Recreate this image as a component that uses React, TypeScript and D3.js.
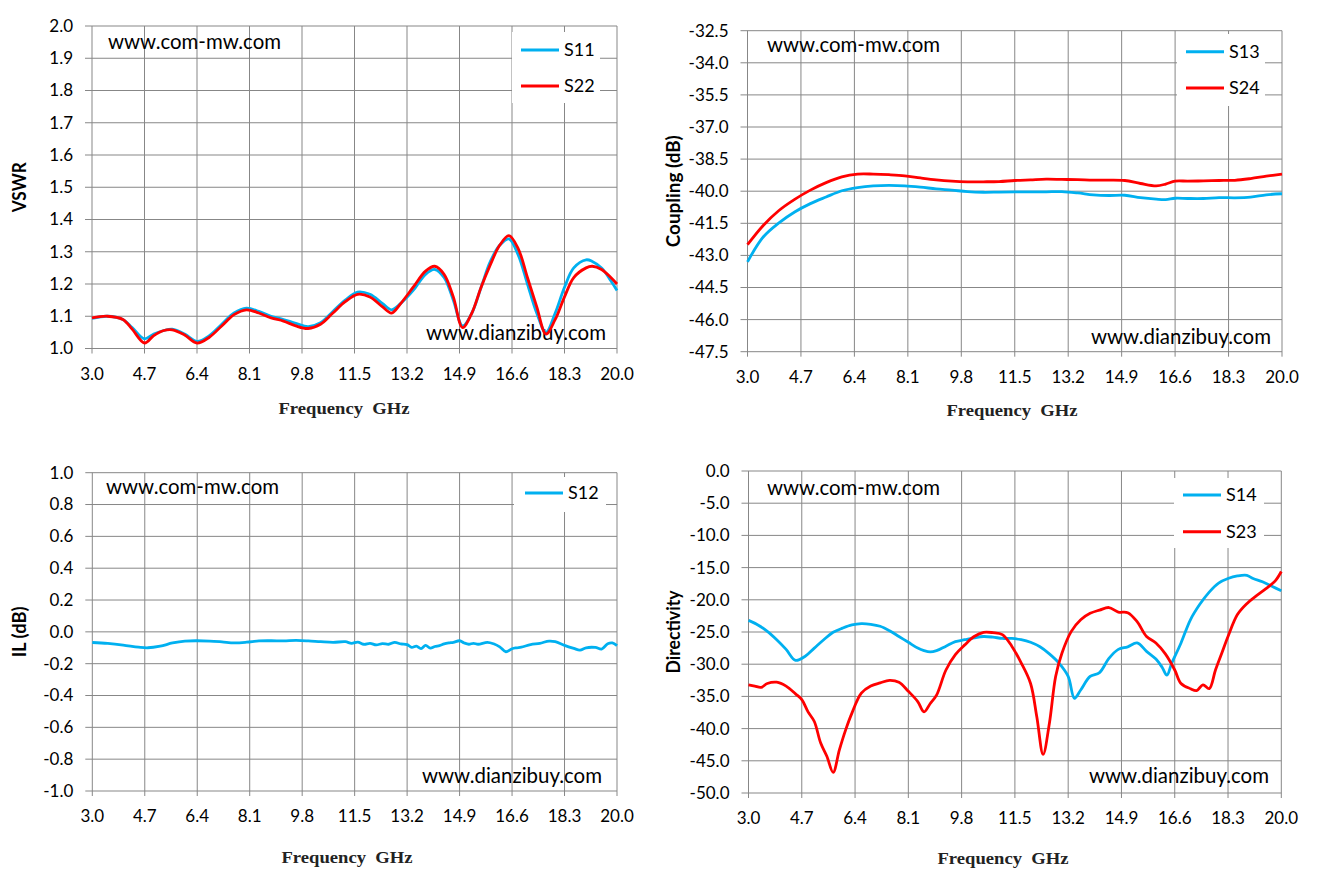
import * as d3 from "d3";

// shared frequency axis
const xTicks = [3.0, 4.7, 6.4, 8.1, 9.8, 11.5, 13.2, 14.9, 16.6, 18.3, 20.0];

// VSWR panel
const vswrTicks = [1.0, 1.1, 1.2, 1.3, 1.4, 1.5, 1.6, 1.7, 1.8, 1.9, 2.0];
const vswrFreq = [3.0, 3.5, 4.0, 4.3, 4.7, 5.0, 5.3, 5.6, 6.0, 6.4, 6.8, 7.2, 7.6, 8.0, 8.4, 8.8, 9.2, 9.6, 10.0, 10.4, 10.8, 11.2, 11.6, 12.0, 12.4, 12.7, 13.0, 13.4, 13.8, 14.1, 14.4, 14.7, 15.0, 15.3, 15.6, 15.9, 16.2, 16.5, 16.8, 17.1, 17.4, 17.7, 18.0, 18.3, 18.6, 19.0, 19.2, 19.5, 19.8, 20.0];
const s11 = [1.093, 1.10, 1.09, 1.065, 1.03, 1.045, 1.055, 1.06, 1.045, 1.022, 1.04, 1.075, 1.11, 1.125, 1.115, 1.10, 1.09, 1.078, 1.068, 1.08, 1.115, 1.15, 1.175, 1.168, 1.14, 1.12, 1.14, 1.18, 1.23, 1.245, 1.22, 1.15, 1.07, 1.11, 1.19, 1.27, 1.32, 1.34, 1.29, 1.20, 1.11, 1.05, 1.11, 1.19, 1.25, 1.275, 1.27, 1.25, 1.21, 1.18];
const s22 = [1.095, 1.10, 1.09, 1.06, 1.017, 1.04, 1.055, 1.058, 1.042, 1.017, 1.035, 1.07, 1.105, 1.12, 1.11, 1.095, 1.085, 1.07, 1.062, 1.075, 1.11, 1.145, 1.168, 1.16, 1.13, 1.11, 1.14, 1.19, 1.24, 1.255, 1.23, 1.16, 1.065, 1.11, 1.19, 1.26, 1.32, 1.35, 1.31, 1.22, 1.13, 1.045, 1.09, 1.16, 1.22, 1.25, 1.255, 1.245, 1.22, 1.20];

// Coupling panel
const couplingTicks = [-47.5, -46.0, -44.5, -43.0, -41.5, -40.0, -38.5, -37.0, -35.5, -34.0, -32.5];
const couplingFreq = [3.0, 3.5, 4.0, 4.5, 5.0, 5.5, 6.0, 6.5, 7.0, 7.5, 8.0, 8.5, 9.0, 9.5, 10.0, 10.5, 11.0, 11.5, 12.0, 12.5, 13.0, 13.5, 14.0, 14.5, 15.0, 15.5, 16.0, 16.3, 16.6, 17.0, 17.5, 18.0, 18.5, 19.0, 19.5, 20.0];
const s13 = [-43.3, -42.14, -41.48, -40.97, -40.58, -40.27, -39.98, -39.83, -39.75, -39.73, -39.75, -39.81, -39.89, -39.95, -40.02, -40.05, -40.04, -40.03, -40.03, -40.03, -40.02, -40.08, -40.17, -40.2, -40.19, -40.3, -40.37, -40.39, -40.33, -40.34, -40.34, -40.3, -40.31, -40.28, -40.17, -40.12];
const s24 = [-42.5, -41.6, -40.9, -40.38, -39.95, -39.6, -39.33, -39.2, -39.2, -39.23, -39.28, -39.38, -39.47, -39.53, -39.56, -39.56, -39.55, -39.5, -39.47, -39.44, -39.45, -39.46, -39.48, -39.48, -39.5, -39.64, -39.75, -39.67, -39.53, -39.53, -39.52, -39.5, -39.49, -39.41, -39.3, -39.2];

// Insertion loss panel
const ilTicks = [-1.0, -0.8, -0.6, -0.4, -0.2, 0.0, 0.2, 0.4, 0.6, 0.8, 1.0];
const ilFreq = [3.0, 3.5, 4.0, 4.5, 4.8, 5.2, 5.6, 6.0, 6.4, 6.8, 7.2, 7.6, 8.0, 8.4, 8.8, 9.2, 9.6, 10.0, 10.4, 10.8, 11.2, 11.4, 11.6, 11.8, 12.0, 12.2, 12.4, 12.6, 12.8, 13.0, 13.2, 13.35, 13.5, 13.65, 13.8, 13.95, 14.1, 14.25, 14.4, 14.55, 14.7, 14.9, 15.05, 15.2, 15.35, 15.5, 15.8, 16.0, 16.2, 16.4, 16.6, 16.75, 16.9, 17.2, 17.5, 17.8, 18.0, 18.3, 18.6, 18.8, 19.0, 19.3, 19.5, 19.7, 19.85, 20.0];
const s12 = [-0.067, -0.073, -0.083, -0.096, -0.10, -0.09, -0.07, -0.058, -0.056, -0.058, -0.063, -0.069, -0.065, -0.057, -0.056, -0.057, -0.054, -0.057, -0.062, -0.066, -0.062, -0.072, -0.064, -0.078, -0.072, -0.082, -0.074, -0.078, -0.066, -0.076, -0.08, -0.098, -0.09, -0.105, -0.085, -0.102, -0.092, -0.086, -0.076, -0.07, -0.066, -0.056, -0.07, -0.078, -0.072, -0.078, -0.066, -0.075, -0.094, -0.125, -0.106, -0.1, -0.096, -0.08, -0.072, -0.058, -0.062, -0.085, -0.104, -0.115, -0.1, -0.098, -0.108, -0.075, -0.07, -0.087];

// Directivity panel
const dirTicks = [-50, -45, -40, -35, -30, -25, -20, -15, -10, -5, 0];
const s14Freq = [3.0, 3.3, 3.6, 3.9, 4.2, 4.5, 4.8, 5.1, 5.4, 5.7, 6.0, 6.3, 6.6, 6.9, 7.2, 7.5, 7.8, 8.1, 8.4, 8.6, 8.8, 9.0, 9.3, 9.6, 9.9, 10.2, 10.5, 10.8, 11.1, 11.4, 11.7, 12.0, 12.3, 12.6, 12.9, 13.2, 13.4, 13.6, 13.9, 14.2, 14.5, 14.8, 15.1, 15.4, 15.7, 16.0, 16.2, 16.35, 16.5, 16.8, 17.1, 17.4, 17.7, 18.0, 18.3, 18.6, 18.9, 19.1, 19.4, 19.7, 20.0];
const s14 = [-23.2, -23.9, -24.9, -26.2, -27.7, -29.4, -28.8, -27.5, -26.2, -25.05, -24.4, -23.9, -23.7, -23.8, -24.1, -24.8, -25.7, -26.6, -27.5, -27.9, -28.1, -27.9, -27.2, -26.5, -26.2, -25.9, -25.7, -25.8, -26.0, -26.0, -26.2, -26.6, -27.3, -28.4, -29.8, -31.9, -35.3, -34.0, -31.9, -31.3, -29.1, -27.7, -27.3, -26.7, -28.0, -29.2, -30.5, -31.7, -29.9, -26.7, -23.1, -20.7, -18.8, -17.4, -16.7, -16.3, -16.2, -16.7, -17.2, -17.9, -18.6];
const s23Freq = [3.0, 3.2, 3.4, 3.6, 3.9, 4.2, 4.5, 4.7, 4.9, 5.1, 5.3, 5.5, 5.7, 5.9, 6.1, 6.3, 6.6, 6.9, 7.2, 7.5, 7.8, 8.1, 8.4, 8.6, 8.8, 9.0, 9.3, 9.6, 9.9, 10.2, 10.5, 10.8, 11.1, 11.4, 11.7, 12.0, 12.2, 12.4, 12.6, 12.8, 13.0, 13.3, 13.6, 13.9, 14.2, 14.5, 14.8, 15.1, 15.4, 15.7, 16.0, 16.3, 16.6, 16.8, 17.1, 17.3, 17.5, 17.7, 17.9, 18.1, 18.3, 18.6, 18.9, 19.2, 19.5, 19.8, 20.0];
const s23 = [-33.2, -33.4, -33.6, -33.0, -32.8, -33.4, -34.6, -35.5, -37.4, -38.9, -42.2, -44.3, -46.8, -43.3, -40.2, -37.6, -34.5, -33.4, -32.9, -32.5, -32.8, -34.2, -35.8, -37.4, -36.1, -34.8, -30.9, -28.5, -27.0, -25.7, -25.05, -25.1, -25.4, -27.2, -29.8, -33.0, -38.2, -44.0, -39.2, -31.9, -28.3, -24.9, -23.1, -22.1, -21.6, -21.2, -21.9, -22.0, -23.4, -25.7, -26.7, -28.4, -30.9, -33.0, -33.8, -34.1, -33.2, -33.8, -30.9, -28.3, -25.7, -22.3, -20.6, -19.4, -18.3, -17.1, -15.6];

const BLUE = "#00B0F0";
const RED = "#FF0000";
const GRID = "#878787";
const TICK_FONT = "Lato, 'Open Sans', sans-serif";

const panels = [
  {
    left: 92, right: 617, top: 26, bottom: 348.5,
    yTicks: vswrTicks, yTitle: "VSWR", yTitleX: 19, yTitleLen: 50,
    xTitleX: 344, xTitleY: 414,
    wm1: [108, 49], wm2: [606, 340],
    legendBox: [512, 32, 88, 71],
    series: [
      { name: "S11", freq: vswrFreq, vals: s11, color: BLUE, ly: 50 },
      { name: "S22", freq: vswrFreq, vals: s22, color: RED, ly: 86 },
    ],
    legendX: 559,
  },
  {
    left: 747.5, right: 1282, top: 30.7, bottom: 351.7,
    yTicks: couplingTicks, yTitle: "Coupling (dB)", yTitleX: 673, yTitleLen: 112,
    xTitleX: 1012, xTitleY: 416,
    wm1: [767, 52], wm2: [1271, 344],
    legendBox: [1177, 34, 88, 72],
    series: [
      { name: "S13", freq: couplingFreq, vals: s13, color: BLUE, ly: 51.7 },
      { name: "S24", freq: couplingFreq, vals: s24, color: RED, ly: 88 },
    ],
    legendX: 1224,
  },
  {
    left: 92.3, right: 617, top: 472.7, bottom: 791,
    yTicks: ilTicks, yTitle: "IL (dB)", yTitleX: 19, yTitleLen: 51,
    xTitleX: 347, xTitleY: 863,
    wm1: [106, 494], wm2: [602, 783],
    legendBox: [514, 477, 92, 35],
    series: [
      { name: "S12", freq: ilFreq, vals: s12, color: BLUE, ly: 493 },
    ],
    legendX: 563,
  },
  {
    left: 748.5, right: 1281.3, top: 471, bottom: 793,
    yTicks: dirTicks, yTitle: "Directivity", yTitleX: 673, yTitleLen: 83,
    xTitleX: 1003, xTitleY: 864,
    wm1: [767, 495], wm2: [1269, 783],
    legendBox: [1174, 478, 90, 70],
    series: [
      { name: "S14", freq: s14Freq, vals: s14, color: BLUE, ly: 495 },
      { name: "S23", freq: s23Freq, vals: s23, color: RED, ly: 531.7 },
    ],
    legendX: 1221,
  },
];

function Panel({ p }) {
  const yMin = d3.min(p.yTicks) as number;
  const yMax = d3.max(p.yTicks) as number;
  const x = d3.scaleLinear().domain([3, 20]).range([p.left, p.right]);
  const y = d3.scaleLinear().domain([yMin, yMax]).range([p.bottom, p.top]);
  const line = d3
    .line<[number, number]>()
    .x((d) => x(d[0]))
    .y((d) => y(d[1]))
    .curve(d3.curveCatmullRom.alpha(0.5));
  const midY = (p.top + p.bottom) / 2;

  return (
    <g>
      {/* grid */}
      {p.yTicks.map((t) => (
        <line key={"h" + t} x1={p.left - 7} x2={p.right} y1={y(t)} y2={y(t)} stroke={GRID} strokeWidth={1} />
      ))}
      {xTicks.map((t) => (
        <line key={"v" + t} x1={x(t)} x2={x(t)} y1={p.top} y2={p.bottom + 5} stroke={GRID} strokeWidth={1} />
      ))}

      {/* tick labels */}
      {p.yTicks.map((t) => (
        <text key={"yl" + t} x={p.left - 19} y={y(t)} dy="0.35em" textAnchor="end" fontFamily={TICK_FONT} fontSize={17} fill="#000">
          {t.toFixed(1)}
        </text>
      ))}
      {xTicks.map((t) => (
        <text key={"xl" + t} x={x(t)} y={p.bottom + 31} textAnchor="middle" fontFamily={TICK_FONT} fontSize={17} fill="#000">
          {t.toFixed(1)}
        </text>
      ))}

      {/* watermarks */}
      <text x={p.wm1[0]} y={p.wm1[1]} fontFamily={TICK_FONT} fontSize={21} textLength={173} lengthAdjust="spacingAndGlyphs" fill="#000">
        www.com-mw.com
      </text>
      <text x={p.wm2[0] - 180} y={p.wm2[1]} fontFamily={TICK_FONT} fontSize={21} textLength={180} lengthAdjust="spacingAndGlyphs" fill="#000">
        www.dianzibuy.com
      </text>

      {/* series */}
      {p.series.map((s) => (
        <path
          key={s.name}
          d={line(d3.zip(s.freq, s.vals) as [number, number][]) || ""}
          fill="none"
          stroke={s.color}
          strokeWidth={2.8}
          strokeLinejoin="round"
        />
      ))}

      {/* legend */}
      <rect x={p.legendBox[0]} y={p.legendBox[1]} width={p.legendBox[2]} height={p.legendBox[3]} fill="#fff" />
      {p.series.map((s) => (
        <g key={"lg" + s.name}>
          <line x1={p.legendX - 38} x2={p.legendX} y1={s.ly} y2={s.ly} stroke={s.color} strokeWidth={3} />
          <text x={p.legendX + 5} y={s.ly} dy="0.36em" fontFamily={TICK_FONT} fontSize={18} fill="#000">
            {s.name}
          </text>
        </g>
      ))}

      {/* axis titles */}
      <text
        transform={`translate(${p.yTitleX},${midY}) rotate(-90)`}
        textAnchor="middle"
        dy="0.35em"
        fontFamily={TICK_FONT}
        fontWeight="bold"
        fontSize={19}
        textLength={p.yTitleLen}
        lengthAdjust="spacingAndGlyphs"
        fill="#000"
      >
        {p.yTitle}
      </text>
      <text
        x={p.xTitleX - 65.5}
        y={p.xTitleY}
        fontFamily="'Liberation Serif', 'DejaVu Serif', serif"
        fontWeight="bold"
        fontSize={17}
        textLength={131}
        lengthAdjust="spacingAndGlyphs"
        fill="#222"
        style={{ whiteSpace: "pre" }}
        xmlSpace="preserve"
      >
        {"Frequency\u00A0\u00A0GHz"}
      </text>
    </g>
  );
}

export default function App() {
  return (
    <svg
      width={1317}
      height={881}
      style={{ position: "absolute", left: 0, top: 0, background: "#fff" }}
    >
      <rect width={1317} height={881} fill="#fff" />
      {panels.map((p, i) => (
        <Panel key={i} p={p} />
      ))}
    </svg>
  );
}
